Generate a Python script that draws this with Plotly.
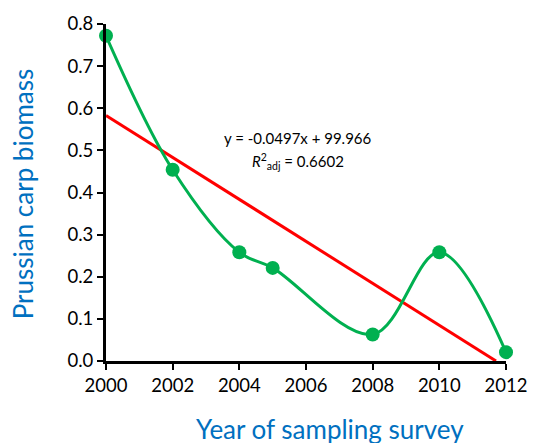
import plotly.graph_objects as go

years = [2000, 2002, 2004, 2005, 2008, 2010, 2012]
biomass = [0.772, 0.454, 0.258, 0.221, 0.063, 0.258, 0.021]
fit_x = [2000, 2011.7]
fit_y = [0.583, 0.0]
x_ticks = [2000, 2002, 2004, 2006, 2008, 2010, 2012]
y_ticks = [0.0, 0.1, 0.2, 0.3, 0.4, 0.5, 0.6, 0.7, 0.8]

FONT = "Lato"
BLUE = "#0070C0"

fig = go.Figure()
fig.add_trace(go.Scatter(x=fit_x, y=fit_y, mode="lines",
                         line=dict(color="#FF0000", width=3), cliponaxis=False))
fig.add_trace(go.Scatter(x=years, y=biomass, mode="lines+markers",
                         line=dict(color="#00B050", width=3, shape="spline", smoothing=1),
                         marker=dict(color="#00B050", size=14), cliponaxis=False))

fig.update_layout(
    width=539, height=443,
    margin=dict(l=106, r=24, t=21, b=82),
    plot_bgcolor="white", paper_bgcolor="white",
    showlegend=False,
    font=dict(family=FONT, size=18.5, color="black"),
    xaxis=dict(range=[2000, 2012], tickvals=x_ticks, ticktext=[str(v) for v in x_ticks],
               showgrid=False, zeroline=False, showline=True, linecolor="black", linewidth=3,
               ticks="outside", ticklen=6, tickwidth=2, tickcolor="black",
               tickfont=dict(size=18.5)),
    yaxis=dict(range=[0, 0.8], tickvals=y_ticks, ticktext=[f"{v:.1f}" for v in y_ticks],
               showgrid=False, zeroline=False, showline=True, linecolor="black", linewidth=3,
               ticks="outside", ticklen=6, tickwidth=2, tickcolor="black",
               tickfont=dict(size=18.5)),
    annotations=[
        dict(text="y = -0.0497x + 99.966", x=302, y=443 - 136,
             showarrow=False, font=dict(size=15, family=FONT, color="black")),
        dict(text="<i>R</i><sup>2</sup><sub>adj</sub> = 0.6602", x=302, y=443 - 160,
             showarrow=False, font=dict(size=15, family=FONT, color="black")),
        dict(text="Year of sampling survey", x=335, y=443 - 430, showarrow=False,
             font=dict(size=26, family=FONT, color=BLUE)),
        dict(text="Prussian carp biomass", x=22, y=443 - 192, showarrow=False, textangle=-90,
             font=dict(size=26, family=FONT, color=BLUE)),
    ],
)
# convert pixel positions of annotations to paper coordinates
for a in fig.layout.annotations:
    a.xref = "paper"
    a.yref = "paper"
    a.x = (a.x - 106) / (539 - 106 - 24)
    a.y = (a.y - 82) / (443 - 21 - 82)
    a.xanchor = "center"
    a.yanchor = "middle"

fig.write_html("out.html")
